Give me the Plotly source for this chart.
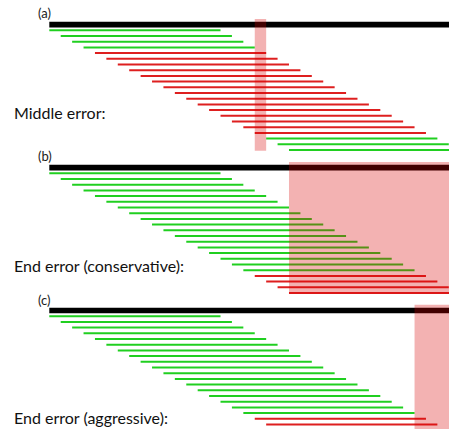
import plotly.graph_objects as go

# Each segment covers WINDOW units, starting one unit further right per row.
WINDOW = 15
REF_END = 40  # the reference (black) bar runs past the right edge

# (a) middle error
a_starts = list(range(22))
a_status = ["ok"] * 4 + ["err"] * 15 + ["ok"] * 3
a_error = (18, 19)

# (b) end error, conservative
b_starts = list(range(22))
b_status = ["ok"] * 18 + ["err"] * 4
b_error = (21, REF_END)

# (c) end error, aggressive
c_starts = list(range(20))
c_status = ["ok"] * 18 + ["err"] * 2
c_error = (32, REF_END)

panel_tags = ["(a)", "(b)", "(c)"]
panel_titles = ["Middle error:", "End error (conservative):", "End error (aggressive):"]

OK_COLOR = "#20cf20"
ERR_COLOR = "#de1f1f"
ERR_FILL = "rgba(215, 0, 0, 0.3)"

W, H = 449, 429
ROW_PX = 5.7
UNIT_PX = 11.414
X0_PX = 49.3
PANEL_TOP_ROW_PX = [30.3, 173.3, 316.2]

panels = [
    (a_starts, a_status, a_error),
    (b_starts, b_status, b_error),
    (c_starts, c_status, c_error),
]

fig = go.Figure()
shapes = []
annotations = []
yaxes = ["y", "y2", "y3"]

for i, (starts, status, err) in enumerate(panels):
    ya = yaxes[i]
    # reference bar one row above the first segment
    fig.add_trace(go.Scatter(
        x=[0, REF_END], y=[-1, -1], mode="lines",
        line=dict(color="black", width=5.6), yaxis=ya, hoverinfo="skip",
        showlegend=False))
    for kind, color in (("ok", OK_COLOR), ("err", ERR_COLOR)):
        xs, ys = [], []
        for s, st in zip(starts, status):
            if st != kind:
                continue
            xs += [s, s + WINDOW, None]
            ys += [s, s, None]
        fig.add_trace(go.Scatter(
            x=xs, y=ys, mode="lines", line=dict(color=color, width=2),
            yaxis=ya, hoverinfo="skip", showlegend=False))
    shapes.append(dict(
        type="rect", xref="x", yref=ya, x0=err[0], x1=err[1],
        y0=-2, y1=max(starts) + 0.15 if i < 2 else 21.15,
        fillcolor=ERR_FILL, line=dict(width=0), layer="above"))

tag_y_px = [13.3, 156.2, 300.0]
title_y_px = [112.3, 265.0, 417.7]
for i in range(3):
    annotations.append(dict(
        text=panel_tags[i], xref="paper", yref="paper",
        x=44.5 / W, y=1 - tag_y_px[i] / H, xanchor="center", yanchor="middle",
        showarrow=False, font=dict(family="Lato", size=13, color="#1a1a1a")))
    annotations.append(dict(
        text=panel_titles[i], xref="paper", yref="paper",
        x=12 / W, y=1 - title_y_px[i] / H, xanchor="left", yanchor="middle",
        showarrow=False, font=dict(family="Lato", size=16, color="#111")))

x_range = [-X0_PX / UNIT_PX, (W - X0_PX) / UNIT_PX]
span_rows = H / ROW_PX


def y_axis(top_px, **extra):
    top = -top_px / ROW_PX
    return dict(range=[top + span_rows, top], visible=False, domain=[0, 1],
                fixedrange=True, **extra)


fig.update_layout(
    width=W, height=H,
    margin=dict(l=0, r=0, t=0, b=0),
    paper_bgcolor="white", plot_bgcolor="white",
    xaxis=dict(range=x_range, visible=False, fixedrange=True),
    yaxis=y_axis(PANEL_TOP_ROW_PX[0]),
    yaxis2=y_axis(PANEL_TOP_ROW_PX[1], overlaying="y", anchor="x"),
    yaxis3=y_axis(PANEL_TOP_ROW_PX[2], overlaying="y", anchor="x"),
    shapes=shapes,
    annotations=annotations,
)

fig.write_html("out.html", config=dict(displayModeBar=False))
